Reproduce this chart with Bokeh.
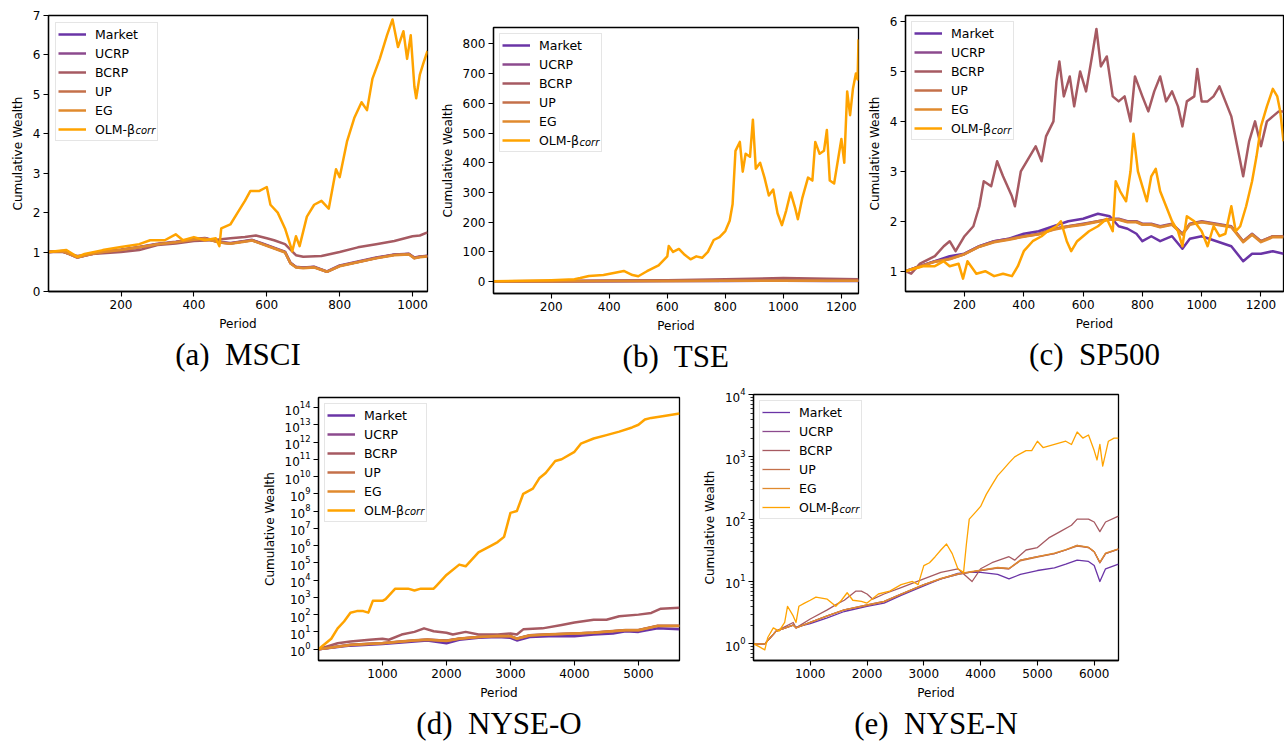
from bokeh.plotting import figure
from bokeh.layouts import column, row
from bokeh.models import (Spacer, FixedTicker, Range1d, Legend, LegendItem,
                          Label, Title)
from bokeh.embed import file_html
from bokeh.resources import INLINE

# ---------------- data ----------------
LABELS = ["Market", "UCRP", "BCRP", "UP", "EG", "OLM-\u03b2"]
COLORS = ["#6a34a6", "#8c4a8e", "#a65a62", "#c4704a", "#e08a2e", "#ffa300"]

# (a) MSCI
a_x_base = [1, 40, 80, 120, 150, 200, 250, 300, 350, 400, 430, 470, 500, 530, 560, 590, 620, 650, 665, 680,
            700, 730, 765, 800, 850, 900, 950, 990, 1005, 1020, 1041]
a_market = [1.0, 1.02, 0.86, 0.95, 1.0, 1.05, 1.12, 1.2, 1.25, 1.32, 1.35, 1.25, 1.22, 1.26, 1.3, 1.2, 1.1, 1.0, 0.72, 0.62,
            0.6, 0.62, 0.5, 0.65, 0.75, 0.85, 0.93, 0.95, 0.85, 0.88, 0.9]
a_ucrp = [1.0, 1.03, 0.87, 0.96, 1.01, 1.06, 1.13, 1.21, 1.26, 1.33, 1.36, 1.26, 1.23, 1.27, 1.31, 1.21, 1.11, 1.01, 0.73, 0.63,
          0.61, 0.63, 0.51, 0.66, 0.76, 0.86, 0.94, 0.96, 0.86, 0.89, 0.91]
a_up = [1.0, 1.02, 0.87, 0.95, 1.0, 1.06, 1.12, 1.2, 1.25, 1.32, 1.35, 1.24, 1.22, 1.26, 1.3, 1.2, 1.1, 1.0, 0.72, 0.62,
        0.6, 0.62, 0.5, 0.65, 0.75, 0.85, 0.93, 0.95, 0.85, 0.88, 0.9]
a_eg = [1.0, 1.02, 0.86, 0.95, 1.0, 1.05, 1.12, 1.2, 1.25, 1.31, 1.34, 1.24, 1.21, 1.25, 1.29, 1.19, 1.09, 0.99, 0.71, 0.61,
        0.59, 0.61, 0.5, 0.64, 0.74, 0.84, 0.92, 0.94, 0.84, 0.87, 0.89]
a_x_bcrp = [1, 40, 80, 120, 200, 250, 300, 350, 400, 450, 500, 540, 570, 600, 620, 650, 680, 700, 750, 800,
            850, 900, 950, 1000, 1020, 1041]
a_bcrp = [1.0, 1.0, 0.9, 0.95, 1.0, 1.05, 1.18, 1.22, 1.28, 1.3, 1.35, 1.38, 1.42, 1.35, 1.3, 1.2, 0.92, 0.88, 0.9, 1.0,
          1.12, 1.2, 1.28, 1.4, 1.42, 1.5]
a_x_olm = [1, 50, 80, 100, 150, 200, 250, 280, 320, 350, 370, 400, 430, 460, 470, 475, 500, 520, 540, 555,
           580, 600, 610, 630, 650, 670, 680, 690, 710, 730, 750, 770, 780, 790, 800, 820, 840, 860, 875, 890,
           910, 930, 945, 960, 975, 985, 995, 1005, 1010, 1020, 1030, 1041]
a_olm = [1.0, 1.05, 0.88, 0.95, 1.05, 1.13, 1.2, 1.3, 1.3, 1.45, 1.3, 1.38, 1.3, 1.35, 1.15, 1.6, 1.7, 2.0, 2.3, 2.55,
         2.55, 2.65, 2.2, 2.0, 1.6, 1.02, 1.4, 1.15, 1.9, 2.2, 2.3, 2.1, 2.6, 3.1, 2.9, 3.8, 4.4, 4.8, 4.6, 5.4,
         5.9, 6.5, 6.9, 6.2, 6.6, 5.9, 6.5, 5.2, 4.9, 5.5, 5.8, 6.1]
a_xticks = [200, 400, 600, 800, 1000]
a_yticks = [0, 1, 2, 3, 4, 5, 6, 7]

# (b) TSE
b_x_base = [1, 200, 400, 600, 800, 1000, 1150, 1259]
b_market = [1.0, 1.3, 1.6, 2.0, 2.3, 2.6, 2.4, 2.3]
b_ucrp = [1.0, 1.5, 2.0, 2.5, 3.0, 3.5, 3.2, 3.0]
b_bcrp = [1.0, 2.0, 4.0, 5.0, 8.0, 12.0, 10.0, 8.0]
b_up = [1.0, 1.5, 2.0, 2.4, 2.9, 3.4, 3.1, 2.9]
b_eg = [1.0, 1.45, 1.9, 2.3, 2.8, 3.3, 3.0, 2.8]
b_x_olm = [1, 100, 200, 280, 300, 330, 380, 420, 450, 480, 500, 530, 570, 600, 605, 620, 640, 660, 680, 700,
           720, 740, 760, 780, 800, 815, 825, 835, 850, 860, 870, 885, 895, 905, 920, 935, 950, 965, 980, 995,
           1010, 1025, 1040, 1050, 1065, 1085, 1100, 1110, 1125, 1140, 1150, 1160, 1175, 1190, 1200, 1210, 1220,
           1230, 1240, 1250, 1256, 1259]
b_olm = [1, 3, 5, 8, 12, 19, 22, 30, 36, 22, 18, 35, 55, 85, 120, 100, 110, 90, 75, 85,
         80, 100, 140, 150, 170, 205, 260, 440, 470, 370, 430, 420, 545, 380, 400, 350, 290, 310, 230, 190,
         240, 300, 250, 210, 280, 350, 340, 470, 430, 440, 510, 340, 330, 420, 480, 400, 640,
         560, 650, 700, 680, 815]
b_xticks = [200, 400, 600, 800, 1000, 1200]
b_yticks = [0, 100, 200, 300, 400, 500, 600, 700, 800]

# (c) SP500
c_x_base = [1, 50, 100, 150, 200, 250, 300, 350, 400, 450, 500, 550, 600, 650, 690, 720, 750, 780, 800, 830,
            860, 900, 935, 960, 1000, 1050, 1100, 1140, 1170, 1200, 1240, 1276]
c_market = [1.0, 1.1, 1.2, 1.3, 1.35, 1.5, 1.6, 1.65, 1.75, 1.8, 1.9, 2.0, 2.05, 2.15, 2.1, 1.9, 1.85, 1.75, 1.6, 1.7,
            1.6, 1.7, 1.45, 1.65, 1.7, 1.6, 1.5, 1.2, 1.35, 1.35, 1.4, 1.35]
c_ucrp = [1.0, 1.1, 1.2, 1.25, 1.35, 1.5, 1.6, 1.65, 1.7, 1.75, 1.85, 1.9, 1.95, 2.0, 2.05, 2.05, 2.0, 2.0, 1.95, 1.95,
          1.9, 1.95, 1.75, 1.95, 2.0, 1.95, 1.9, 1.6, 1.75, 1.6, 1.7, 1.7]
c_up = [1.0, 1.1, 1.19, 1.25, 1.34, 1.49, 1.59, 1.64, 1.7, 1.74, 1.84, 1.9, 1.94, 2.0, 2.04, 2.04, 1.99, 1.99, 1.94, 1.94,
        1.89, 1.94, 1.74, 1.94, 1.99, 1.94, 1.89, 1.6, 1.74, 1.6, 1.7, 1.7]
c_eg = [1.0, 1.09, 1.19, 1.24, 1.34, 1.49, 1.58, 1.63, 1.69, 1.74, 1.83, 1.89, 1.93, 1.99, 2.03, 2.03, 1.98, 1.98, 1.93, 1.93,
        1.88, 1.93, 1.73, 1.93, 1.98, 1.93, 1.88, 1.58, 1.73, 1.58, 1.68, 1.68]
c_x_bcrp = [1, 20, 50, 100, 130, 150, 170, 200, 230, 250, 265, 290, 310, 330, 360, 370, 390, 420, 440, 460,
            475, 500, 510, 520, 535, 555, 570, 590, 610, 630, 645, 660, 680, 700, 720, 740, 760, 775, 800, 820,
            840, 860, 880, 900, 920, 935, 950, 975, 985, 1000, 1020, 1040, 1060, 1080, 1100, 1120, 1140, 1160,
            1180, 1200, 1220, 1240, 1260, 1276]
c_bcrp = [1.0, 0.95, 1.15, 1.3, 1.5, 1.6, 1.4, 1.7, 1.9, 2.3, 2.8, 2.7, 3.2, 2.9, 2.5, 2.3, 3.0, 3.3, 3.5, 3.2,
          3.7, 4.0, 4.8, 5.2, 4.5, 4.9, 4.3, 5.0, 4.6, 5.3, 5.85, 5.1, 5.3, 4.5, 4.4, 4.5, 4.0, 4.9, 4.5, 4.2,
          4.6, 4.9, 4.4, 4.6, 4.3, 3.9, 4.4, 4.5, 5.05, 4.4, 4.4, 4.5, 4.7, 4.4, 4.1, 3.5, 2.9, 3.6,
          4.0, 3.5, 4.0, 4.1, 4.2, 4.2]
c_x_olm = [1, 30, 60, 100, 130, 150, 180, 195, 210, 240, 270, 300, 330, 360, 380, 400, 430, 460, 480, 510,
           525, 545, 560, 580, 600, 620, 650, 680, 700, 710, 725, 745, 760, 770, 785, 800, 815, 830, 845, 860,
           880, 900, 920, 935, 950, 975, 1000, 1020, 1040, 1060, 1080, 1100, 1115, 1130, 1150, 1170, 1185, 1200,
           1220, 1240, 1255, 1265, 1276]
c_olm = [1.0, 1.05, 1.1, 1.1, 1.2, 1.1, 1.15, 0.85, 1.2, 0.95, 1.0, 0.9, 0.95, 0.9, 1.1, 1.4, 1.6, 1.7, 1.8, 1.9,
         2.0, 1.6, 1.4, 1.6, 1.7, 1.8, 1.9, 2.05, 1.8, 2.8, 2.6, 2.4, 3.0, 3.75, 3.0, 2.7, 2.4, 2.9, 3.05, 2.6,
         2.3, 2.0, 1.8, 1.5, 2.1, 2.0, 1.8, 1.5, 1.9, 1.7, 1.75, 2.3, 1.8, 1.9, 2.3, 2.8, 3.3, 3.9,
         4.3, 4.65, 4.5, 4.2, 3.6]
c_xticks = [200, 400, 600, 800, 1000, 1200]
c_yticks = [1, 2, 3, 4, 5, 6]

# (d) NYSE-O (log scale)
d_x_base = [1, 500, 1000, 1500, 1700, 2000, 2200, 2500, 2800, 3000, 3100, 3300, 3600, 4000, 4300, 4600, 4800,
            5000, 5300, 5641]
d_market = [1, 1.6, 2.0, 2.8, 3.2, 2.2, 3.5, 4.5, 5.0, 4.5, 3.2, 5.0, 5.6, 5.6, 7.0, 8.0, 11, 10, 16, 14]
d_ucrp = [1, 1.8, 2.2, 3.2, 3.5, 3.2, 4.0, 5.0, 5.6, 5.6, 4.0, 6.3, 7.0, 8.0, 9.0, 11, 12.5, 12.5, 22, 22]
d_up = [1, 1.8, 2.3, 3.3, 3.6, 3.1, 4.1, 5.1, 5.8, 5.7, 4.1, 6.4, 7.2, 8.2, 9.2, 11.2, 12.8, 12.8, 23, 23]
d_eg = [1, 1.75, 2.2, 3.2, 3.5, 3.0, 4.0, 5.0, 5.7, 5.6, 4.0, 6.2, 7.0, 8.0, 9.0, 11, 12.5, 12.5, 22, 22]
d_x_bcrp = [1, 300, 500, 800, 1000, 1100, 1300, 1500, 1650, 1800, 2000, 2100, 2300, 2500, 2800, 3000, 3100,
            3200, 3500, 3800, 4000, 4300, 4500, 4700, 5000, 5200, 5350, 5641]
d_bcrp = [1.0, 2.2, 2.8, 3.5, 4.0, 3.5, 7.0, 10, 16, 11, 9, 7, 10, 7, 7, 8, 7,
          14, 16, 25, 35, 50, 50, 80, 100, 125, 220, 250]
d_x_olm = [1, 100, 200, 300, 400, 500, 600, 700, 780, 850, 1000, 1050, 1200, 1400, 1500, 1600, 1800, 1850,
           2000, 2200, 2300, 2400, 2500, 2700, 2800, 2900, 3000, 3100, 3200, 3350, 3450, 3550, 3700, 3800,
           4000, 4100, 4300, 4500, 4700, 4900, 5000, 5100, 5200, 5400, 5641]
d_olm = [1.0, 2.0, 4.0, 16, 40, 1.3e2, 1.6e2, 1.6e2, 1.3e2, 6.3e2, 6.3e2, 8.0e2, 3.2e3, 3.2e3, 2.5e3, 3.2e3,
         3.2e3, 5.0e3, 2.0e4, 7.9e4, 6.3e4, 1.6e5, 4.0e5, 1.0e6, 1.6e6, 3.2e6, 7.9e7, 1.0e8, 1.0e9, 2.0e9,
         7.9e9, 1.6e10, 7.9e10, 1.0e11, 2.7e11, 8.0e11, 1.6e12, 2.5e12, 4.0e12, 7.0e12, 1.0e13, 2.0e13,
         2.5e13, 3.2e13, 4.5e13]
d_xticks = [1000, 2000, 3000, 4000, 5000]
d_yticks = [1e0, 1e1, 1e2, 1e3, 1e4, 1e5, 1e6, 1e7, 1e8, 1e9, 1e10, 1e11, 1e12, 1e13, 1e14]

# (e) NYSE-N (log scale)
e_x_base = [1, 200, 400, 700, 750, 1000, 1300, 1600, 2000, 2300, 2600, 3000, 3300, 3600, 3800, 4000, 4300,
            4500, 4700, 5000, 5300, 5500, 5700, 5900, 6000, 6100, 6200, 6428]
e_market = [1.0, 1.0, 1.6, 2.0, 1.85, 2.1, 2.6, 3.3, 4.0, 4.5, 6.0, 8.5, 11, 13.5, 14, 14, 13,
            11, 13, 15, 16.6, 19, 22, 21, 18, 10, 16, 19]
e_ucrp = [1.0, 1.0, 1.6, 2.0, 1.8, 2.2, 2.8, 3.5, 4.2, 4.8, 6.3, 8.9, 11, 13, 14, 15, 16.6,
          16, 22, 25, 28, 32, 38, 35, 30, 20, 28, 33]
e_up = [1.0, 1.0, 1.6, 2.0, 1.8, 2.2, 2.8, 3.5, 4.1, 4.7, 6.2, 8.8, 11, 13, 14, 15, 16.4,
        16, 21.5, 24.5, 28, 32, 37, 35, 30, 20, 28, 33]
e_eg = [1.0, 1.0, 1.6, 2.0, 1.8, 2.2, 2.8, 3.5, 4.2, 4.8, 6.3, 8.9, 11.2, 13.2, 14.2, 15.2, 16.8,
        16.2, 22, 25, 28.5, 32.5, 38, 35.5, 30, 20.5, 28.5, 33.5]
e_x_bcrp = [1, 200, 400, 700, 750, 1000, 1300, 1500, 1600, 1800, 1900, 2000, 2100, 2300, 2600, 3000, 3300,
            3600, 3800, 3850, 4000, 4200, 4500, 4600, 4800, 5000, 5200, 5400, 5600, 5700, 5900, 6000, 6100,
            6200, 6428]
e_bcrp = [1.0, 1.0, 1.6, 2.2, 1.8, 2.5, 3.5, 4.5, 5.0, 7.0, 7.0, 6.3, 5.2, 6.3, 8.0, 11, 14,
          16, 11, 10, 16, 20, 25, 22, 32, 35, 50, 63, 80, 100, 100, 90, 63,
          90, 112]
e_x_olm = [1, 100, 200, 250, 350, 450, 550, 600, 700, 750, 800, 900, 1000, 1100, 1300, 1450, 1550, 1650,
           1750, 1900, 2000, 2200, 2400, 2600, 2800, 2900, 3000, 3100, 3200, 3300, 3400, 3500, 3600, 3700,
           3750, 3800, 3900, 4000, 4100, 4200, 4300, 4400, 4500, 4600, 4800, 4900, 5000, 5100, 5300, 5500,
           5600, 5700, 5800, 5900, 6000, 6050, 6100, 6150, 6250, 6350, 6428]
e_olm = [1.0, 0.9, 0.8, 1.25, 1.8, 1.6, 2.2, 4.0, 2.8, 2.2, 4.0, 4.5, 5.0, 5.6, 5.2, 4.0, 5.0, 6.6,
         5.0, 4.8, 4.5, 6.3, 7.0, 8.9, 10, 8.9, 18, 20, 25, 32, 40, 28, 16, 14,
         40, 100, 126, 160, 250, 355, 500, 630, 800, 1000, 1260, 1260, 1780, 1410, 1580, 1780,
         1580, 2500, 2000, 2240, 1260, 890, 1580, 710, 1780, 2000, 2000]
e_xticks = [1000, 2000, 3000, 4000, 5000, 6000]
e_yticks = [1e0, 1e1, 1e2, 1e3, 1e4]
e_yminor = [m * 10.0 ** k for k in range(-1, 4) for m in range(2, 10)]

FONT = "DejaVu Sans"
CAP_FONT = "Liberation Serif"


def make_panel(width, height, border, xr, yr, log, xticks, yticks, caption, series,
               lw, lmargin, minor=None):
    left, right, top, bottom = border
    p = figure(width=width, height=height, output_backend="svg", toolbar_location=None,
               x_range=Range1d(*xr), y_range=Range1d(*yr),
               y_axis_type="log" if log else "linear",
               min_border_left=left, min_border_right=right,
               min_border_top=top, min_border_bottom=bottom,
               x_axis_label="Period", y_axis_label="Cumulative Wealth")
    p.title = None
    p.grid.visible = False
    p.outline_line_color = "black"
    p.outline_line_width = 1.3
    p.outline_line_alpha = 1.0
    p.background_fill_color = "white"
    p.border_fill_color = "white"
    for ax in (p.xaxis[0], p.yaxis[0]):
        ax.axis_line_color = "black"
        ax.axis_line_width = 1.3
        ax.major_tick_out = 5
        ax.major_tick_in = 0
        ax.major_tick_line_width = 1.1
        ax.major_tick_line_color = "black"
        ax.minor_tick_line_color = None
        ax.major_label_text_font = FONT
        ax.major_label_text_font_size = "12px"
        ax.major_label_text_color = "black"
        ax.major_label_standoff = 3
        ax.axis_label_text_font = FONT
        ax.axis_label_text_font_size = "12px"
        ax.axis_label_text_font_style = "normal"
        ax.axis_label_text_color = "black"
        ax.axis_label_standoff = 5
    p.xaxis[0].ticker = FixedTicker(ticks=xticks)
    if minor is not None:
        p.yaxis[0].ticker = FixedTicker(ticks=yticks, minor_ticks=minor)
        p.yaxis[0].minor_tick_line_color = "black"
        p.yaxis[0].minor_tick_out = 3
        p.yaxis[0].minor_tick_in = 0
        p.yaxis[0].minor_tick_line_width = 0.8
    else:
        p.yaxis[0].ticker = FixedTicker(ticks=yticks)

    items = []
    for (lab, xs, ys), col in zip(series, COLORS):
        r = p.line(xs, ys, line_color=col, line_width=lw, line_join="round")
        items.append(LegendItem(label=lab, renderers=[r]))
    pad, lh, sp, gw, ls = 2, 18, 1, 28, 9
    leg = Legend(items=items, location="top_left", margin=lmargin, padding=pad, spacing=sp,
                 glyph_width=gw, glyph_height=lh, label_height=lh, label_width=60,
                 label_standoff=ls, label_text_font=FONT, label_text_font_size="12.5px",
                 label_text_color="black", border_line_color="#cccccc", border_line_width=1,
                 background_fill_color="white", background_fill_alpha=0.0)
    p.add_layout(leg)
    frame_h = height - top - bottom
    sub = Label(x=lmargin + pad + gw + ls + 41,
                y=frame_h - (lmargin + pad + 5 * (lh + sp) + lh / 2 + 3),
                x_units="screen", y_units="screen", text="corr", level="overlay",
                text_font=FONT, text_font_size="10px", text_font_style="italic",
                text_color="black", text_alpha=1.0, text_baseline="middle", text_align="left")
    p.add_layout(sub)
    t = Title(text=caption, align="center", text_font=CAP_FONT, text_font_size="31px",
              text_font_style="normal", text_color="black", standoff=3)
    p.add_layout(t, "below")
    return p


# row 1: frames a/c at y 15, b at y 27 (b is pushed down by a spacer)
pa = make_panel(436, 377, (48, 9, 15, 85), (1, 1041), (0, 7), False, a_xticks, a_yticks,
                "(a)\u00a0 MSCI",
                [(LABELS[0], a_x_base, a_market), (LABELS[1], a_x_base, a_ucrp),
                 (LABELS[2], a_x_bcrp, a_bcrp), (LABELS[3], a_x_base, a_up),
                 (LABELS[4], a_x_base, a_eg), (LABELS[5], a_x_olm, a_olm)], 2.5, 7)
pb = make_panel(426, 365, (57, 4, 15, 84), (1, 1259), (-40, 855), False, b_xticks, b_yticks,
                "(b)\u00a0 TSE",
                [(LABELS[0], b_x_base, b_market), (LABELS[1], b_x_base, b_ucrp),
                 (LABELS[2], b_x_base, b_bcrp), (LABELS[3], b_x_base, b_up),
                 (LABELS[4], b_x_base, b_eg), (LABELS[5], b_x_olm, b_olm)], 2.5, 6)
pc = make_panel(422, 377, (43, 1, 15, 86), (1, 1276), (0.593, 6.12), False, c_xticks, c_yticks,
                "(c)\u00a0 SP500",
                [(LABELS[0], c_x_base, c_market), (LABELS[1], c_x_base, c_ucrp),
                 (LABELS[2], c_x_bcrp, c_bcrp), (LABELS[3], c_x_base, c_up),
                 (LABELS[4], c_x_base, c_eg), (LABELS[5], c_x_olm, c_olm)], 2.5, 6)
# row 2: frame d at y 397, e at y 394
pd_ = make_panel(441, 362, (63, 17, 17, 81), (1, 5641), (0.22, 3.8e14), True, d_xticks, d_yticks,
                 "(d)\u00a0 NYSE-O",
                 [(LABELS[0], d_x_base, d_market), (LABELS[1], d_x_base, d_ucrp),
                  (LABELS[2], d_x_bcrp, d_bcrp), (LABELS[3], d_x_base, d_up),
                  (LABELS[4], d_x_base, d_eg), (LABELS[5], d_x_olm, d_olm)], 2.5, 6)
pe = make_panel(434, 365, (57, 12, 17, 82), (1, 6428), (0.54, 1.0e4), True, e_xticks, e_yticks,
                "(e)\u00a0 NYSE-N",
                [(LABELS[0], e_x_base, e_market), (LABELS[1], e_x_base, e_ucrp),
                 (LABELS[2], e_x_bcrp, e_bcrp), (LABELS[3], e_x_base, e_up),
                 (LABELS[4], e_x_base, e_eg), (LABELS[5], e_x_olm, e_olm)], 1.3, 6, minor=e_yminor)

row1 = row(pa, column(Spacer(width=426, height=12), pb), pc)
row2 = row(Spacer(width=255, height=365), column(Spacer(width=441, height=3), pd_), pe)
layout = column(row1, row2)

open("out.html", "w").write(file_html(layout, INLINE, title="Cumulative Wealth"))
